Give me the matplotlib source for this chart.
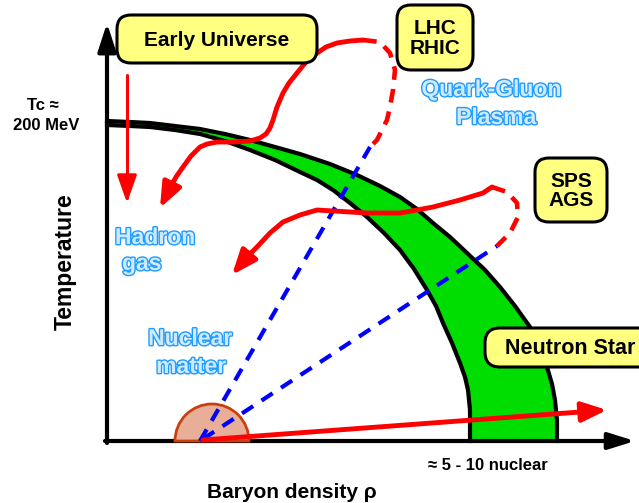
import numpy as np
import matplotlib
matplotlib.use("Agg")
import matplotlib.pyplot as plt
from matplotlib.patches import FancyBboxPatch, FancyArrowPatch, Polygon, Wedge
from matplotlib.path import Path
import matplotlib.patheffects as pe

# diagram coordinates (origin top-left, same units as the 639x503 picture)
# phase boundary: outer and inner edge of the green crossover band
outer_x = [107, 130, 150, 175, 200, 225, 250, 275, 300, 330, 357, 380, 400, 417, 433,
           450, 467, 485, 500, 515, 530, 540, 547, 552, 555, 557, 557]
outer_y = [121, 122, 123, 126, 129, 134, 140, 147, 154, 164, 175, 186, 197, 209, 223,
           237, 253, 270, 287, 306, 327, 347, 367, 384, 400, 420, 441]
inner_x = [107, 130, 150, 175, 200, 225, 250, 275, 300, 317, 333, 350, 367, 384, 400,
           414, 427, 436, 443, 452, 460, 465, 468, 470, 470]
inner_y = [125, 126, 127, 130, 134, 141, 150, 160, 172, 180, 190, 203, 217, 233, 250,
           269, 290, 306, 323, 343, 363, 377, 390, 410, 441]

# heavy-ion trajectories: solid (cooling, with arrow), dashed red (QGP), blue dashed (compression)
lhc_solid_x = [363, 350, 337, 326, 317, 306, 297, 289, 283, 277, 273, 270, 266, 260,
               250, 233, 217, 207, 200, 191, 183, 176, 170, 160]
lhc_solid_y = [40, 41, 43, 47, 53, 62, 73, 83, 93, 107, 120, 128, 134, 138,
               141, 142, 142, 144, 147, 156, 167, 177, 188, 208]
lhc_dash_x = [363, 380, 390, 395, 393, 390, 387, 377, 370]
lhc_dash_y = [40, 42, 53, 70, 90, 107, 120, 140, 147]
lhc_comp_x = [200, 370]
lhc_comp_y = [441, 147]

sps_solid_x = [492, 483, 460, 433, 417, 400, 367, 350, 317, 300, 283, 270, 257, 247, 232]
sps_solid_y = [187, 193, 200, 207, 210, 213, 213, 212, 210, 215, 222, 233, 247, 257, 275]
sps_dash_x = [492, 507, 517, 518, 510, 500, 497]
sps_dash_y = [187, 192, 203, 217, 233, 243, 246]
sps_comp_x = [203, 497]
sps_comp_y = [439, 246]

early_x = [127, 127]
early_y = [75, 203]
nstar_x = [203, 607]
nstar_y = [440, 410]

# nuclear matter ground state
nuc_center = (212, 441)
nuc_radius = 37

# labelled boxes: (text, x0, y0, x1, y1)
boxes = [
    ("Early Universe", 117, 15, 317, 63),
    ("LHC\nRHIC", 397, 5, 473, 70),
    ("SPS\nAGS", 535, 158, 607, 222),
]

plt.rcParams["font.family"] = ["Liberation Sans", "DejaVu Sans"]

fig = plt.figure(figsize=(6.39, 5.03), dpi=100)
ax = fig.add_axes([0, 0, 1, 1])
ax.set_xlim(0, 639)
ax.set_ylim(503, 0)
ax.axis("off")

RED = "#ff0000"
BLUE = "#0000ff"

# green band
band = list(zip(outer_x, outer_y)) + list(zip(inner_x[::-1], inner_y[::-1]))
ax.add_patch(Polygon(band, closed=True, facecolor="#00dd00", edgecolor="none", zorder=1))
ax.plot(outer_x, outer_y, color="black", lw=3, solid_joinstyle="round", zorder=2)
ax.plot(inner_x, inner_y, color="black", lw=3, solid_joinstyle="round", zorder=2)

# axes with arrows
ax.add_patch(FancyArrowPatch((107, 443), (107, 23), arrowstyle="-|>,head_length=17,head_width=5.5",
                             mutation_scale=1, lw=3, color="black", shrinkA=0, shrinkB=0, zorder=3))
ax.add_patch(FancyArrowPatch((105, 441), (635, 441), arrowstyle="-|>,head_length=16,head_width=5",
                             mutation_scale=1, lw=3, color="black", shrinkA=0, shrinkB=0, zorder=3))

# nuclear matter half-disc
ax.add_patch(Wedge(nuc_center, nuc_radius, 180, 360, facecolor="#e8ae98", edgecolor="#c84010",
                   lw=2, zorder=4))

# compression paths (blue dashed)
for xs, ys in [(lhc_comp_x, lhc_comp_y), (sps_comp_x, sps_comp_y)]:
    ax.plot(xs, ys, color=BLUE, lw=3, dashes=(3.2, 2.4), dash_capstyle="butt", zorder=5)

# plasma phase (red dashed)
for xs, ys in [(lhc_dash_x, lhc_dash_y), (sps_dash_x, sps_dash_y)]:
    ax.plot(xs, ys, color=RED, lw=3.3, dashes=(3.0, 2.0), dash_capstyle="butt",
            solid_joinstyle="round", zorder=5)


def arrow_path(xs, ys, lw, hl, hw):
    p = Path(np.column_stack([xs, ys]))
    a = FancyArrowPatch(path=p, arrowstyle="-|>,head_length=%g,head_width=%g" % (hl, hw),
                        mutation_scale=1, lw=lw, color=RED, joinstyle="round",
                        capstyle="round", zorder=6)
    ax.add_patch(a)


arrow_path(lhc_solid_x, lhc_solid_y, 3.5, 15, 6)
arrow_path(sps_solid_x, sps_solid_y, 3.5, 15, 6)
arrow_path(early_x, early_y, 2.2, 17, 6)
arrow_path(nstar_x, nstar_y, 3.5, 15, 6)

# yellow boxes
for txt, x0, y0, x1, y1 in boxes:
    ax.add_patch(FancyBboxPatch((x0, y0), x1 - x0, y1 - y0,
                                boxstyle="round,pad=0,rounding_size=14",
                                facecolor="#ffff80", edgecolor="black", lw=2.2, zorder=7))
    ax.text((x0 + x1) / 2, (y0 + y1) / 2 + 1, txt, ha="center", va="center",
            fontsize=15, fontweight="bold", linespacing=1.05, zorder=8)

ax.add_patch(FancyBboxPatch((485, 328), 170, 39, boxstyle="round,pad=0,rounding_size=15",
                            facecolor="#ffff80", edgecolor="black", lw=2.2, zorder=7,
                            clip_on=True))
ax.text(505, 348, "Neutron Star", ha="left", va="center", fontsize=15.5,
        fontweight="bold", zorder=8)

# region labels (outlined light blue)
outline = [pe.withStroke(linewidth=2.0, foreground="#1f9cff")]
blue_labels = [
    ("Quark-Gluon", 491, 96, "center"),
    ("Plasma", 496, 124, "center"),
    ("Hadron", 115, 244, "left"),
    ("gas", 122, 270, "left"),
    ("Nuclear", 190, 345, "center"),
    ("matter", 191, 373, "center"),
]
for txt, x, y, ha in blue_labels:
    ax.text(x, y, txt, ha=ha, va="baseline", fontsize=16.5, fontweight="bold",
            color="#cfeaff", path_effects=outline, zorder=8)

# axis texts
ax.text(43, 110, "Tc \u2248", ha="center", va="baseline", fontsize=12, fontweight="bold")
ax.text(46, 130, "200 MeV", ha="center", va="baseline", fontsize=12, fontweight="bold")
ax.text(65, 262, "Temperature", rotation=90, ha="center", va="center", fontsize=16.5,
        fontweight="bold")
ax.text(292, 498, "Baryon density \u03c1", ha="center", va="baseline", fontsize=15,
        fontweight="bold")
ax.text(488, 470, "\u2248 5 - 10 nuclear", ha="center", va="baseline", fontsize=12,
        fontweight="bold")

fig.savefig("out.png", dpi=100)
